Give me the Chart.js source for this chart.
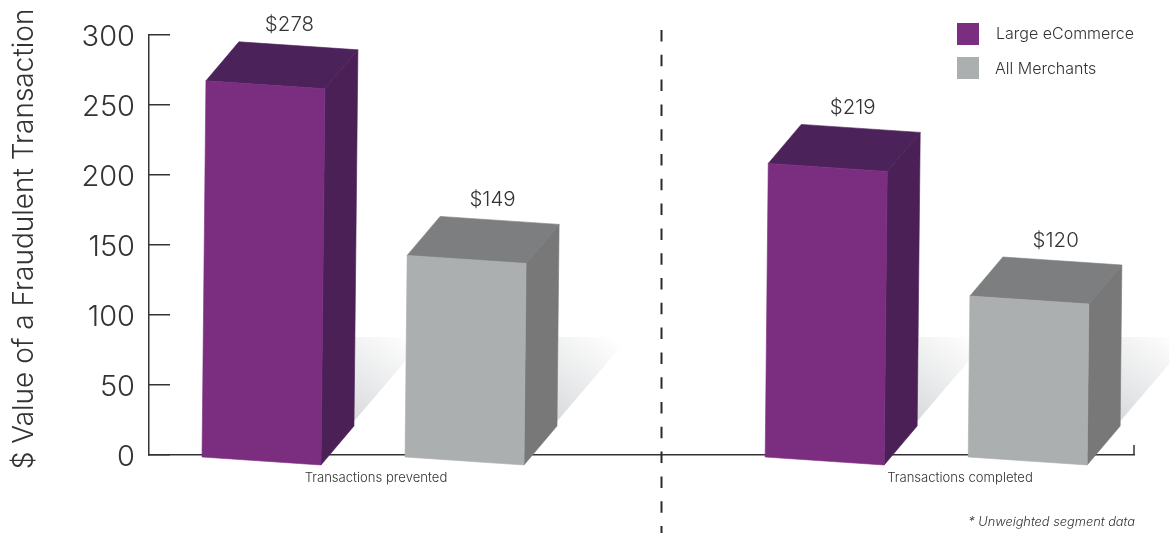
<!DOCTYPE html>
<html>
<head>
<meta charset="utf-8">
<title>Fraudulent transaction value</title>
<script src="https://cdn.jsdelivr.net/npm/chart.js@4"></script>
<style>
    html, body { margin: 0; padding: 0; background: #fff; overflow: hidden; }
    #wrap { width: 1169px; height: 533px; position: relative; }
</style>
</head>
<body>
<div id="wrap"><canvas id="myChart"></canvas></div>
<script>
// chart values
const categories = ["Transactions prevented", "Transactions completed"];
const largeEcommerce = [278, 219];
const allMerchants = [149, 120];
const yTicks = [0, 50, 100, 150, 200, 250, 300];
const axisTitle = "$ Value of a Fraudulent Transaction";
const footnote = "* Unweighted segment data";

// where the group captions sit on the x axis, in group units
const captionPositions = [0.023, 1.06];

const FONT = "Inter, 'Open Sans', sans-serif";
const TEXT = "#333333";

// box projection: how far the back face is shifted from the front face
const DEPTH_X = 33;
const DEPTH_Y = 39;
const FRONT_TILT = 8;
const LEAN = 0.0105;

// colours of each box, by dataset index
const faces = [
    { front: "#7b2d80", top: "#4b2259", side: "#4a2056", drop: 15 },
    { front: "#abafaf", top: "#7c7e7f", side: "#787878", drop: 9 },
];

// floor shadow behind one bar, fading out to the upper right
function drawShadow(ctx, bar, base) {
    const w = bar.width;
    const left = bar.x + w / 2 - 4 + DEPTH_X;
    const lowY = base - 29;
    const highY = base - 118;
    const g = ctx.createLinearGradient(left - 5, lowY, left + 62, highY);
    g.addColorStop(0, "#d4d6d8");
    g.addColorStop(0.45, "#e9eaeb");
    g.addColorStop(1, "#ffffff");
    ctx.fillStyle = g;
    ctx.beginPath();
    ctx.moveTo(left, lowY);
    ctx.lineTo(left + 76, highY);
    ctx.lineTo(left, highY);
    ctx.closePath();
    ctx.fill();
}

// front, top and side faces of one bar, built from its scale position
function drawBox(ctx, bar, base, look) {
    const w = bar.width;
    const x0 = bar.x - w / 2;
    const topY = bar.y + look.drop;
    const shift = LEAN * (base - topY);

    const bl = [x0, base + 2];
    const br = [x0 + w, base + 2 + FRONT_TILT];
    const tl = [x0 + shift, topY];
    const tr = [x0 + w + shift, topY + FRONT_TILT];

    // the thin stroke closes the seams between neighbouring faces
    const poly = (pts, color) => {
        ctx.fillStyle = color;
        ctx.strokeStyle = color;
        ctx.lineWidth = 0.6;
        ctx.beginPath();
        pts.forEach((p, i) => (i ? ctx.lineTo(p[0], p[1]) : ctx.moveTo(p[0], p[1])));
        ctx.closePath();
        ctx.fill();
        ctx.stroke();
    };
    const back = (p) => [p[0] + DEPTH_X, p[1] - DEPTH_Y];

    poly([tl, tr, back(tr), back(tl)], look.top);
    poly([tr, br, back(br), back(tr)], look.side);
    poly([tl, tr, br, bl], look.front);
}

const boxes3d = {
    id: "boxes3d",
    beforeDatasetsDraw(chart) {
        const ctx = chart.ctx;
        const base = chart.scales.y.getPixelForValue(0);
        ctx.save();
        chart.data.datasets.forEach((ds, i) => {
            chart.getDatasetMeta(i).data.forEach((bar) => drawShadow(ctx, bar, base));
        });
        ctx.restore();
    },
    // replaces the flat rectangles with boxes
    beforeDatasetDraw(chart, args) {
        const ctx = chart.ctx;
        const base = chart.scales.y.getPixelForValue(0);
        ctx.save();
        args.meta.data.forEach((bar) => drawBox(ctx, bar, base, faces[args.index]));
        ctx.restore();
        return false;
    },
};

// value labels, axis title, legend, divider and footnote
const annotations = {
    id: "annotations",
    afterDraw(chart) {
        const ctx = chart.ctx;
        const xScale = chart.scales.x;
        const yScale = chart.scales.y;
        ctx.save();

        // end tick of the x axis
        ctx.strokeStyle = "#333333";
        ctx.lineWidth = 1.5;
        ctx.beginPath();
        ctx.moveTo(xScale.right, yScale.bottom);
        ctx.lineTo(xScale.right, yScale.bottom - 10);
        ctx.stroke();

        // divider between the two groups
        ctx.strokeStyle = "#2a2a2a";
        ctx.lineWidth = 2;
        ctx.setLineDash([11.5, 13.3]);
        ctx.beginPath();
        ctx.moveTo(661.5, 30);
        ctx.lineTo(661.5, 533);
        ctx.stroke();
        ctx.setLineDash([]);

        ctx.fillStyle = TEXT;
        ctx.textBaseline = "middle";

        // "$" labels above each box
        ctx.font = "300 20.5px " + FONT;
        ctx.textAlign = "center";
        chart.data.datasets.forEach((ds, i) => {
            chart.getDatasetMeta(i).data.forEach((bar, j) => {
                const topY = bar.y + faces[i].drop;
                ctx.fillText("$" + ds.data[j].y, bar.x + 28, topY - DEPTH_Y - 16.5);
            });
        });

        // y axis title
        ctx.save();
        ctx.translate(25, 239);
        ctx.rotate(-Math.PI / 2);
        ctx.font = "300 28px " + FONT;
        ctx.fillText(axisTitle, 0, 0);
        ctx.restore();

        // legend
        ctx.textAlign = "left";
        ctx.font = "300 16px " + FONT;
        chart.data.datasets.forEach((ds, i) => {
            const y = 23 + i * 34;
            ctx.fillStyle = ds.backgroundColor;
            ctx.fillRect(957, y, 22, 22);
            ctx.fillStyle = TEXT;
            ctx.fillText(ds.label, i ? 995 : 996, y + (i ? 12 : 11));
        });

        // footnote
        ctx.textAlign = "right";
        ctx.font = "italic 300 12.8px " + FONT;
        ctx.fillText(footnote, 1135, 522);

        ctx.restore();
    },
};

const config = {
    type: "bar",
    data: {
        datasets: [
            {
                label: "Large eCommerce",
                backgroundColor: faces[0].front,
                data: largeEcommerce.map((v, i) => ({ x: i, y: v })),
            },
            {
                label: "All Merchants",
                backgroundColor: faces[1].front,
                data: allMerchants.map((v, i) => ({ x: i, y: v })),
            },
        ],
    },
    plugins: [boxes3d, annotations],
    options: {
        responsive: false,
        animation: false,
        layout: { padding: { top: 35, left: 0, right: 35, bottom: 0 } },
        categoryPercentage: 0.721,
        barPercentage: 0.586,
        plugins: { legend: { display: false }, tooltip: { enabled: false } },
        scales: {
            x: {
                type: "linear",
                offset: false,
                min: -0.38,
                max: 1.369,
                // one tick per caption, labels come from the categories array
                afterBuildTicks(scale) {
                    scale.ticks = captionPositions.map((v) => ({ value: v }));
                },
                afterFit(scale) {
                    scale.height = 78;
                },
                border: { color: "#333333", width: 1.5 },
                grid: { display: false },
                ticks: {
                    color: TEXT,
                    font: { family: FONT, size: 13.1, weight: "300" },
                    padding: 7,
                    autoSkip: false,
                    maxRotation: 0,
                    callback: (v, i) => categories[i],
                },
            },
            y: {
                min: 0,
                max: 300,
                afterBuildTicks(scale) {
                    scale.ticks = yTicks.map((v) => ({ value: v }));
                },
                // the large tick padding would otherwise push the plot area down
                afterFit(scale) {
                    scale.width = 149;
                    scale.paddingTop = 0;
                    scale.paddingBottom = 0;
                },
                border: { color: "#333333", width: 1.5 },
                // negative length turns the tick marks inward
                grid: { drawOnChartArea: false, tickLength: -21, color: "#333333", lineWidth: 1.5 },
                ticks: {
                    color: TEXT,
                    font: { family: FONT, size: 29, weight: "300" },
                    padding: 35,
                    labelOffset: 2,
                },
            },
        },
    },
};

const canvas = document.getElementById("myChart");
canvas.width = 1169;
canvas.height = 533;
new Chart(canvas, config);
</script>
</body>
</html>
